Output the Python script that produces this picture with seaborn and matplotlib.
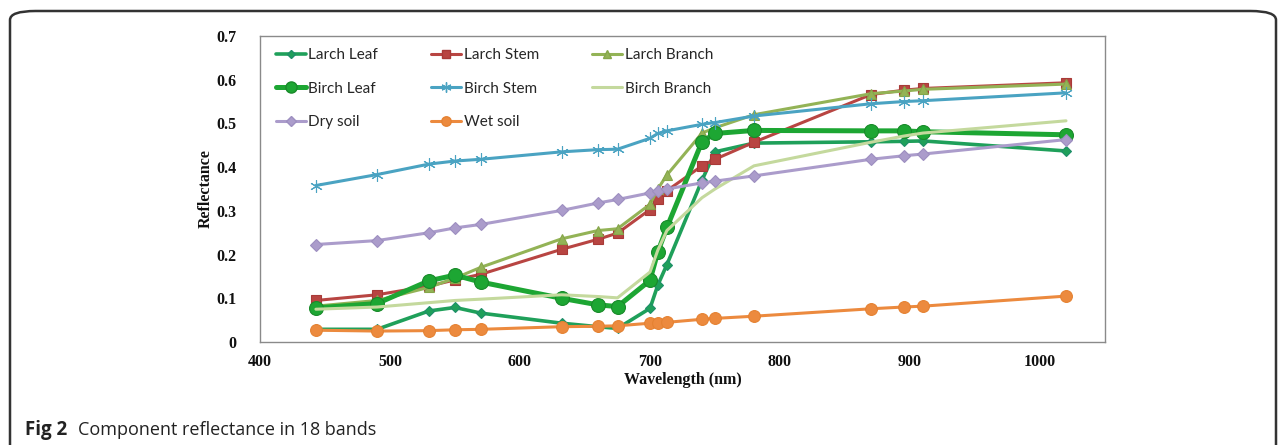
import matplotlib
matplotlib.use("Agg")
import matplotlib.pyplot as plt
from matplotlib.patches import FancyBboxPatch
from matplotlib.lines import Line2D
from matplotlib.ticker import FuncFormatter
import seaborn as sns

# Band centre wavelengths (nm)
wavelength = [443, 490, 530, 550, 570, 632, 660, 675, 700, 706, 713,
              740, 750, 780, 870, 895, 910, 1020]

larch_leaf = [0.029, 0.029, 0.071, 0.079, 0.066, 0.043, 0.035, 0.031, 0.077,
              0.130, 0.177, 0.370, 0.435, 0.455, 0.458, 0.459, 0.460, 0.437]
larch_stem = [0.095, 0.108, 0.128, 0.142, 0.155, 0.212, 0.235, 0.249, 0.303,
              0.326, 0.346, 0.403, 0.418, 0.457, 0.566, 0.576, 0.580, 0.593]
larch_branch = [0.082, 0.095, 0.125, 0.146, 0.171, 0.236, 0.255, 0.259, 0.315,
                0.350, 0.382, 0.478, 0.490, 0.520, 0.568, 0.574, 0.578, 0.590]
birch_leaf = [0.078, 0.088, 0.140, 0.153, 0.137, 0.100, 0.085, 0.081, 0.141,
              0.206, 0.262, 0.458, 0.477, 0.484, 0.483, 0.483, 0.481, 0.474]
birch_stem = [0.358, 0.383, 0.407, 0.414, 0.418, 0.435, 0.440, 0.441, 0.466,
              0.477, 0.483, 0.498, 0.502, 0.517, 0.545, 0.550, 0.552, 0.570]
birch_branch = [0.075, 0.080, 0.090, 0.095, 0.098, 0.108, 0.104, 0.101, 0.160,
                0.210, 0.255, 0.330, 0.350, 0.403, 0.457, 0.471, 0.478, 0.506]
dry_soil = [0.223, 0.232, 0.250, 0.261, 0.269, 0.301, 0.318, 0.326, 0.341,
            0.346, 0.350, 0.364, 0.368, 0.380, 0.418, 0.426, 0.430, 0.463]
wet_soil = [0.027, 0.025, 0.026, 0.028, 0.029, 0.035, 0.036, 0.037, 0.043,
            0.044, 0.045, 0.052, 0.054, 0.059, 0.076, 0.080, 0.082, 0.105]

series_names = ["Larch Leaf", "Larch Stem", "Larch Branch", "Birch Leaf",
                "Birch Stem", "Birch Branch", "Dry soil", "Wet soil"]
series_values = [larch_leaf, larch_stem, larch_branch, birch_leaf,
                 birch_stem, birch_branch, dry_soil, wet_soil]

x_ticks = [400, 500, 600, 700, 800, 900, 1000]
y_ticks = [0, 0.1, 0.2, 0.3, 0.4, 0.5, 0.6, 0.7]

# Line style per series: colour, marker, marker size, line width, marker edge colour
styles = {
    "Larch Leaf":   dict(color="#1fa05a", marker="D", ms=5, lw=2.6, mec="#1f8f6a"),
    "Larch Stem":   dict(color="#b84542", marker="s", ms=7, lw=2.2, mec="#a83a38"),
    "Larch Branch": dict(color="#93b356", marker="^", ms=7.5, lw=2.2, mec="#86a64a"),
    "Birch Leaf":   dict(color="#1da633", marker="o", ms=10, lw=3.6, mec="#198a2a"),
    "Birch Stem":   dict(color="#4aa3c2", marker=(6, 2, 0), ms=9, lw=2.2, mec="#4aa3c2"),
    "Birch Branch": dict(color="#c4d99d", marker=None, ms=0, lw=2.2, mec="#c4d99d"),
    "Dry soil":     dict(color="#ab9ccb", marker="D", ms=6, lw=2.2, mec="#9d8fc0"),
    "Wet soil":     dict(color="#ec8a3e", marker="o", ms=8.5, lw=2.2, mec="#e58232"),
}

sns.set_style("white")
plt.rcParams["font.family"] = ["Liberation Serif", "DejaVu Serif"]

fig = plt.figure(figsize=(12.81, 4.45), dpi=100)
ax = fig.add_axes([260 / 1281, 1 - 342 / 445, 845 / 1281, 306 / 445])

for name, vals in zip(series_names, series_values):
    st = styles[name]
    sns.lineplot(x=wavelength, y=vals, ax=ax, color=st["color"],
                 marker=st["marker"], markersize=st["ms"], linewidth=st["lw"],
                 markeredgecolor=st["mec"], markeredgewidth=0.8,
                 label=name, legend=False, estimator=None, sort=False)

ax.set_xlim(400, 1050)
ax.set_ylim(0, 0.7)
ax.set_xticks(x_ticks)
ax.set_yticks(y_ticks)
ax.yaxis.set_major_formatter(FuncFormatter(lambda v, p: "0" if abs(v) < 1e-9 else f"{v:.1f}"))

for sp in ax.spines.values():
    sp.set_visible(True)
    sp.set_color("#8a8a8a")
    sp.set_linewidth(1.0)
ax.tick_params(axis="both", direction="in", length=4, width=1, color="#8a8a8a",
               labelsize=11.5, labelcolor="#111111")
ax.tick_params(axis="x", pad=9)
ax.tick_params(axis="y", pad=17)
for lab in ax.get_xticklabels() + ax.get_yticklabels():
    lab.set_fontweight("bold")

ax.set_xlabel("Wavelength (nm)", fontsize=11.5, fontweight="bold", labelpad=1, color="#111111")
ax.set_ylabel("Reflectance", fontsize=11.5, fontweight="bold", labelpad=2, color="#111111")

# Legend laid out row by row in three columns
order = [0, 3, 6, 1, 4, 7, 2, 5]
handles = []
for i in order:
    st = styles[series_names[i]]
    handles.append(Line2D([], [], color=st["color"], lw=st["lw"], marker=st["marker"],
                          markersize=st["ms"] * 0.8, markeredgecolor=st["mec"]))
labels = [series_names[i] for i in order]
leg = ax.legend(handles, labels, ncol=3, loc="upper left", bbox_to_anchor=(0.004, 1.0),
                frameon=False, handlelength=2.0, handletextpad=0.15,
                columnspacing=3.45, labelspacing=1.27, borderpad=0.3,
                prop=dict(family="Lato", size=11))

# Caption and rounded outer frame
fig.text(25 / 1281, 1 - 430 / 445, "Fig 2", fontfamily="Open Sans", fontweight="bold",
         fontsize=13.5, va="center", ha="left", color="#222222")
fig.text(78 / 1281, 1 - 430 / 445, "Component reflectance in 18 bands", fontfamily="Open Sans",
         fontsize=13, va="center", ha="left", color="#222222")

frame = FancyBboxPatch((10 / 1281, -0.2), (1266 / 1281), 1 - 11 / 445 + 0.2,
                       boxstyle="round,pad=0,rounding_size=0.02",
                       transform=fig.transFigure, fill=False,
                       edgecolor="#333333", linewidth=1.8, mutation_aspect=445 / 1281 * 2.9)
fig.patches.append(frame)

fig.savefig("out.png", dpi=100)
